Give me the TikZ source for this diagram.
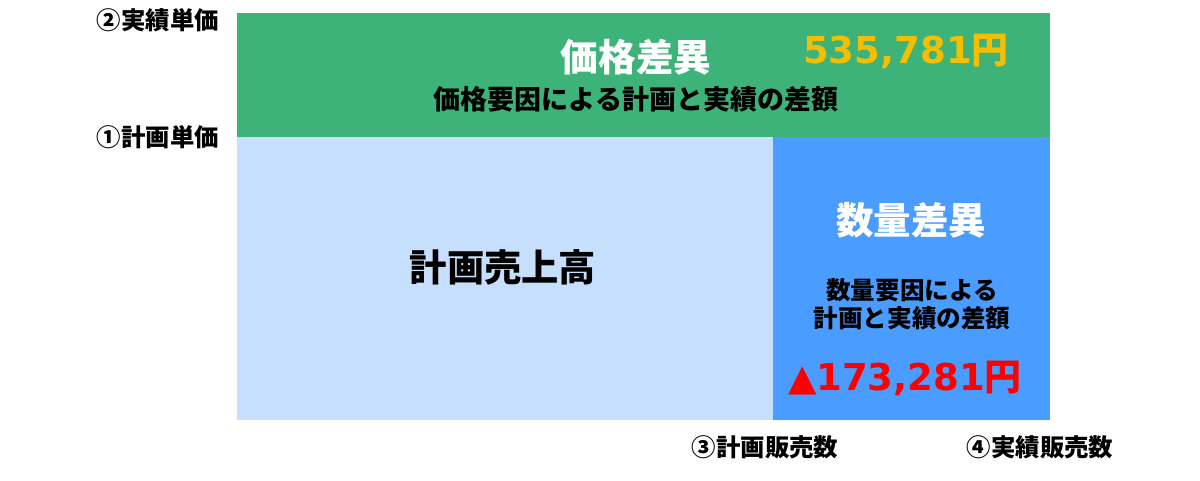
\documentclass[tikz,border=0pt]{standalone}
\usepackage{fontspec}
\setmainfont{Noto Sans CJK JP}
\newfontfamily\numfont{DejaVu Sans}
\definecolor{cgreen}{HTML}{3DB37A}
\definecolor{clight}{HTML}{C5DFFD}
\definecolor{cblue}{HTML}{4A9DFF}
\definecolor{cgold}{HTML}{F5BE00}
\definecolor{cred}{HTML}{FF0000}
\tikzset{
  lbl/.style={inner sep=0pt,font=\bfseries\fontsize{24.4}{28}\selectfont},
  ttl/.style={inner sep=0pt,font=\bfseries\fontsize{#1}{#1}\selectfont},
}
\begin{document}
\begin{tikzpicture}[x=1pt,y=-1pt]
\useasboundingbox (0,0) rectangle (1200,480);
\fill[white] (0,0) rectangle (1200,480);
% regions
\fill[cgreen] (237,13) rectangle (1050,137);
\fill[clight] (237,137) rectangle (773,420);
\fill[cblue] (773,137) rectangle (1050,420);
% labels left
\node[lbl,anchor=east] (l2) at (219,20) {②実績単価};
\node[lbl,anchor=east] (l1) at (219,137) {①計画単価};
% bottom labels
\node[lbl] (l3) at (765,447) {③計画販売数};
\node[lbl] (l4) at (1040,447) {④実績販売数};
% green texts
\node[ttl=37.7,text=white] (pv) at (636,57) {価格差異};
\node[ttl=37,text=cgold] (pvn) at (906,51) {{\numfont 535,781}円};
\node[ttl=27] (pvd) at (636,99) {価格要因による計画と実績の差額};
% plan sales
\node[ttl=37.3] (ps) at (503,267) {計画売上高};
% blue texts
\node[ttl=37.5,text=white] (qv) at (911,220) {数量差異};
\node[ttl=24.6] (qd1) at (912,290) {数量要因による};
\node[ttl=24.6] (qd2) at (912,318) {計画と実績の差額};
\node[inner sep=0pt,text=cred,font=\bfseries\fontsize{37}{37}\selectfont] (qvn) at (905,378) {{\numfont ▲173,281}円};
\end{tikzpicture}
\end{document}
